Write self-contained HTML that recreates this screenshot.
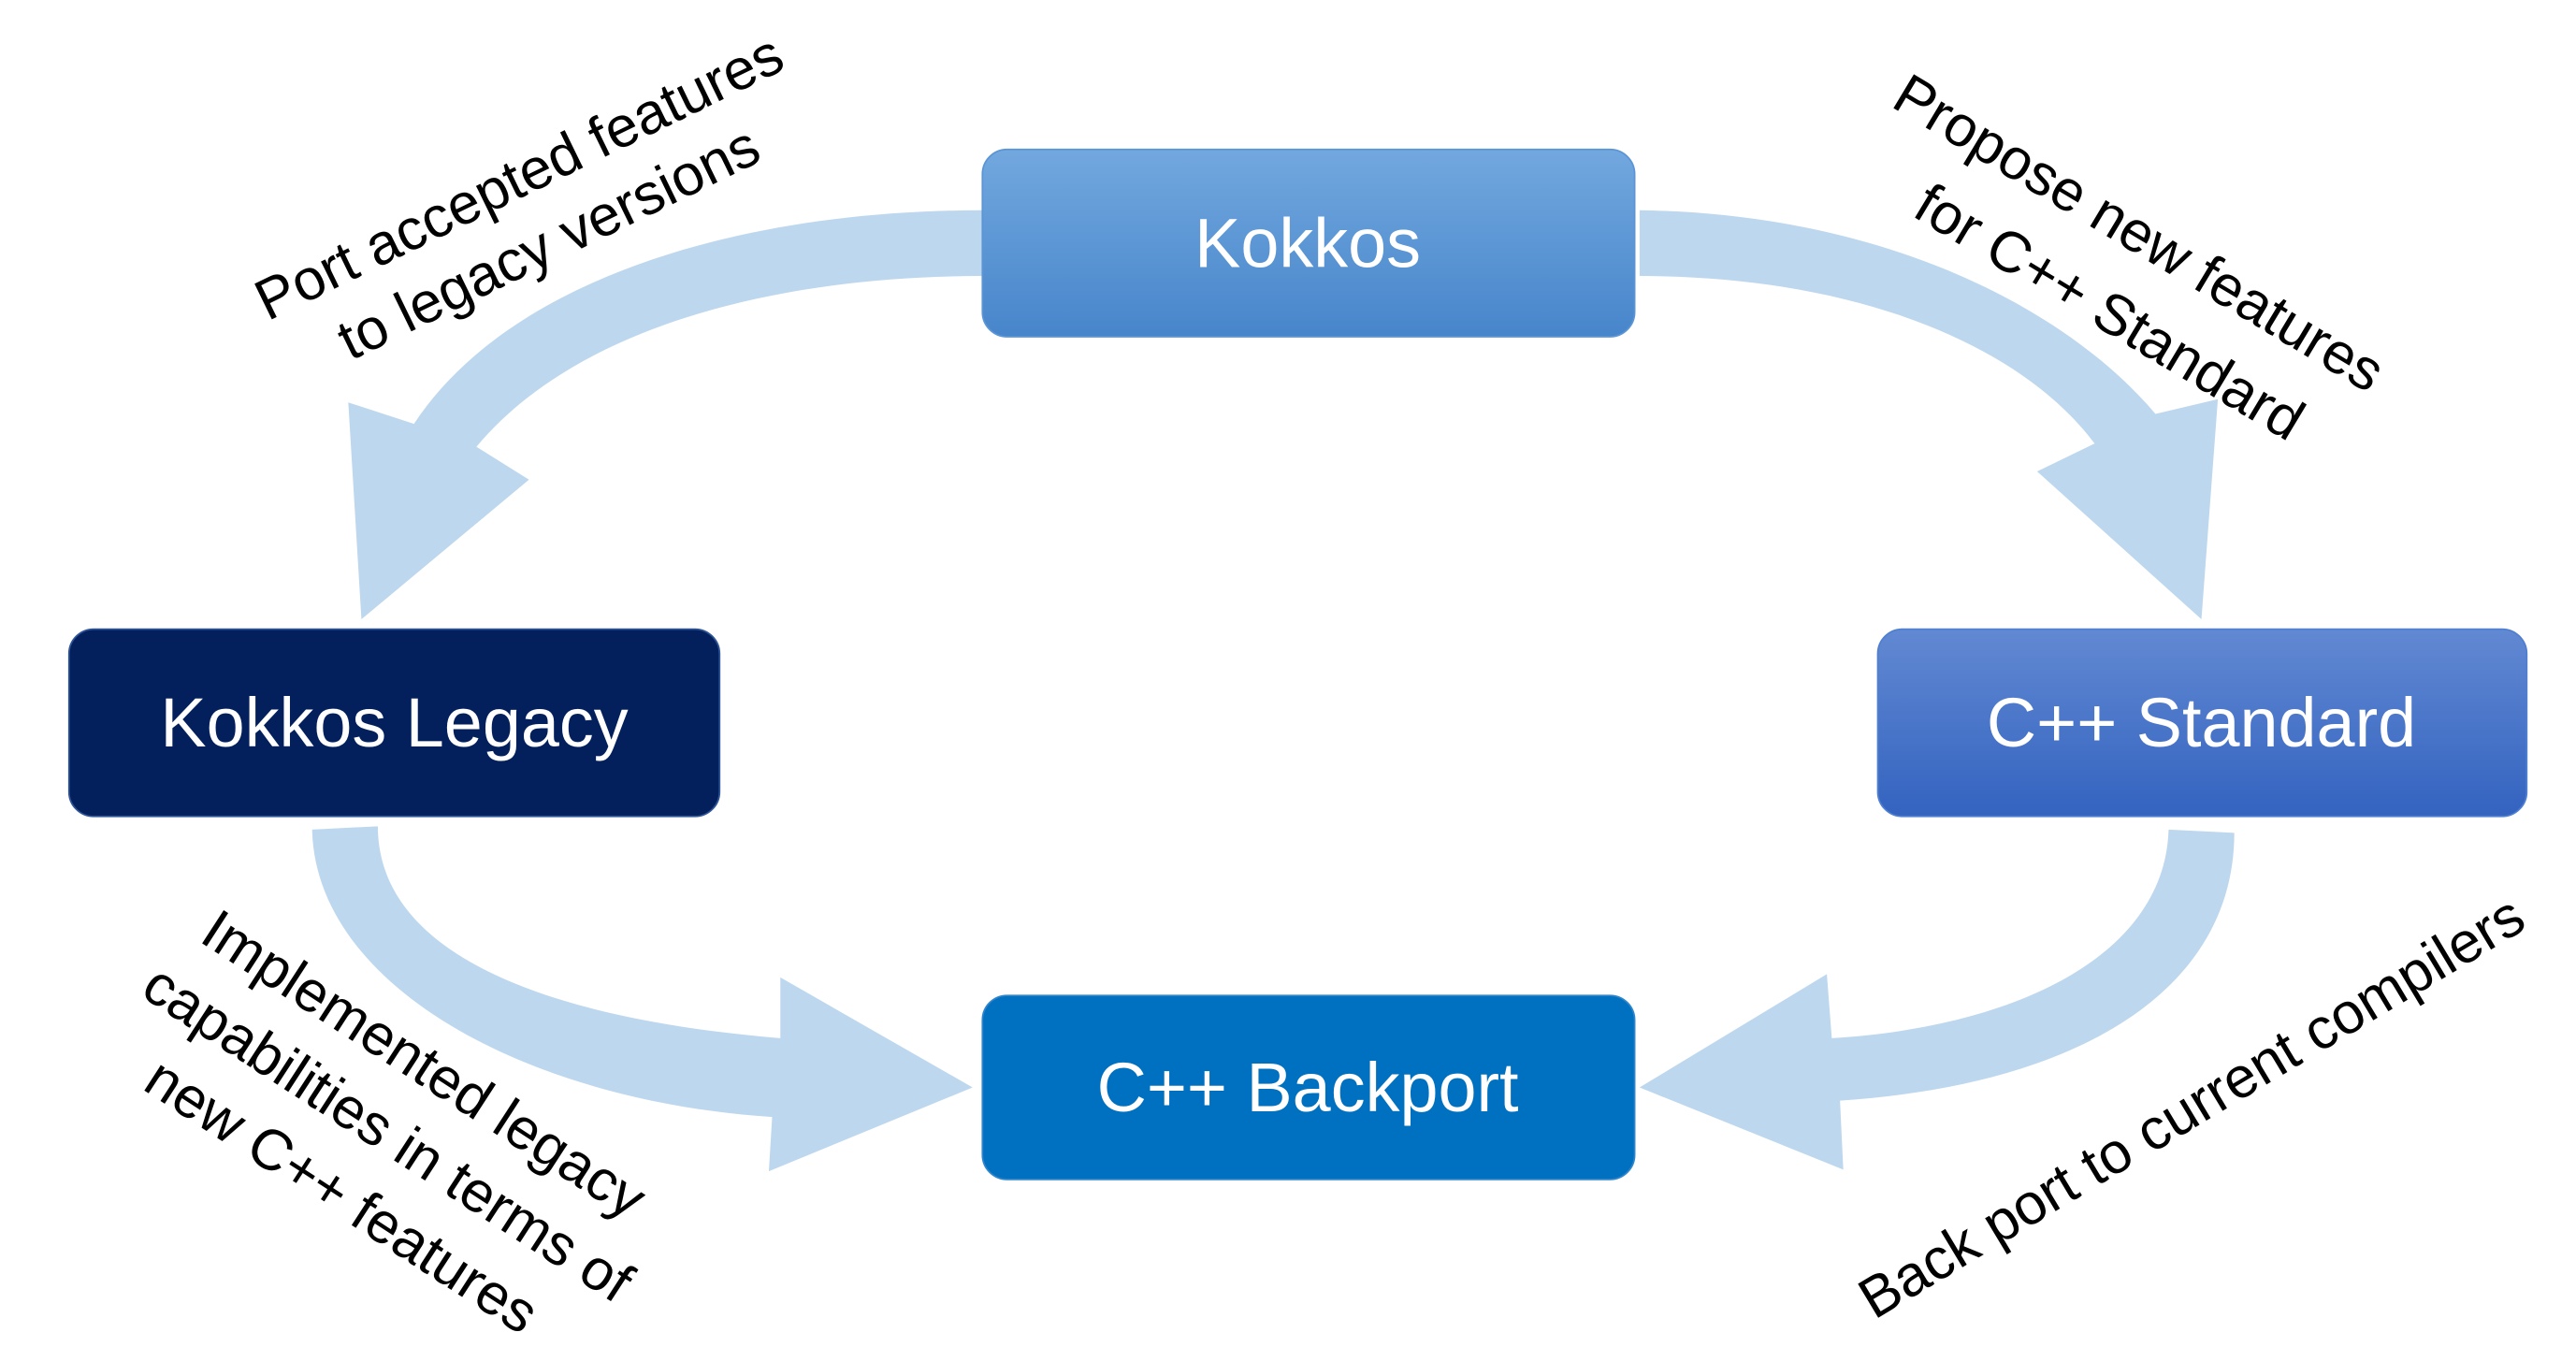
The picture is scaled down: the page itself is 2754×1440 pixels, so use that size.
<!DOCTYPE html>
<html><head><meta charset="utf-8"><style>
html,body{margin:0;padding:0;background:#fff;}
svg{display:block;}
text{font-family:"Liberation Sans",sans-serif;}
</style></head><body>
<svg width="2754" height="1440" viewBox="0 0 1568 820" preserveAspectRatio="none" xmlns="http://www.w3.org/2000/svg">
<defs>
<linearGradient id="gk" x1="0" y1="0" x2="0" y2="1"><stop offset="0" stop-color="#72a8de"/><stop offset="1" stop-color="#4785cb"/></linearGradient>
<linearGradient id="gs" x1="0" y1="0" x2="0" y2="1"><stop offset="0" stop-color="#6289d2"/><stop offset="1" stop-color="#3363c0"/></linearGradient>
</defs>
<g fill="#bdd7ee">
<path d="M598,128 C450,128 310,170 252,258 L212,245 L220,377 L322,292 L290,272 C350,200 470,168 598,168 Z"/>
<path d="M998,128 C1150,130 1260,190 1312,252 L1350,243 L1340,377 L1240,287 L1275,270 C1230,210 1130,168 998,168 Z"/>
<path d="M190,505 C192,600 320,670 470,680 L468,713 L592,662 L475,595 L475,632 C330,620 230,580 230,503 Z"/>
<path d="M1320,505 C1318,580 1230,625 1115,632 L1112,593 L998,662 L1122,712 L1120,670 C1270,660 1360,600 1360,507 Z"/>
</g>
<rect x="598" y="91" width="397" height="114" rx="15" fill="url(#gk)" stroke="#5b95d5" stroke-width="1"/>
<rect x="42" y="383" width="396" height="114" rx="15" fill="#03205c" stroke="#2f5597" stroke-width="1"/>
<rect x="1143" y="383" width="395" height="114" rx="15" fill="url(#gs)" stroke="#4f7fd0" stroke-width="1"/>
<rect x="598" y="606" width="397" height="112" rx="15" fill="#0070c0" stroke="#2f85cc" stroke-width="1"/>
<g fill="#fff" font-size="42" text-anchor="middle" dominant-baseline="central">
<text x="796" y="148">Kokkos</text>
<text x="240" y="440">Kokkos Legacy</text>
<text x="1340" y="440">C++ Standard</text>
<text x="796" y="662">C++ Backport</text>
</g>
<g fill="#000" font-size="35" text-anchor="middle" dominant-baseline="central">
<text transform="translate(316,108) rotate(-26)">Port accepted features</text>
<text transform="translate(334,148) rotate(-26)">to legacy versions</text>
<text transform="translate(1302,142) rotate(31)">Propose new features</text>
<text transform="translate(1284,190) rotate(31)">for C++ Standard</text>
<text transform="translate(258,648) rotate(33)">Implemented legacy</text>
<text transform="translate(236,690) rotate(33)">capabilities in terms of</text>
<text transform="translate(208,728) rotate(33)">new C++ features</text>
<text transform="translate(1334,674) rotate(-31)">Back port to current compilers</text>
</g>
</svg>
</body></html>
